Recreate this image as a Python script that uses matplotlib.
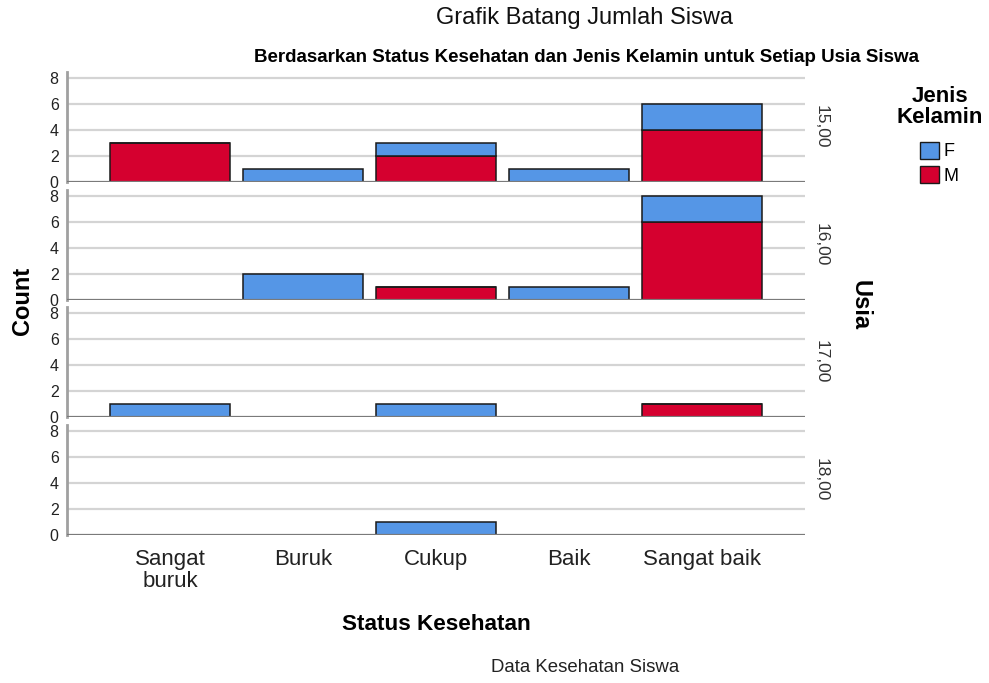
import matplotlib
matplotlib.use("Agg")
import matplotlib.pyplot as plt
from matplotlib.patches import Patch
import numpy as np

plt.rcParams["font.family"] = ["Liberation Sans", "DejaVu Sans"]

categories = ["Sangat\nburuk", "Buruk", "Cukup", "Baik", "Sangat baik"]
ages = ["15,00", "16,00", "17,00", "18,00"]
# counts per age panel, one value per category
male = [
    [3, 0, 2, 0, 4],
    [0, 0, 1, 0, 6],
    [0, 0, 0, 0, 1],
    [0, 0, 0, 0, 0],
]
female = [
    [0, 1, 1, 1, 2],
    [0, 2, 0, 1, 2],
    [1, 0, 1, 0, 0],
    [0, 0, 1, 0, 0],
]

blue = "#5596E6"
red = "#D5002F"
W, H = 989, 683

fig = plt.figure(figsize=(W / 100, H / 100), dpi=100)

x = np.arange(len(categories))
left, right = 67, 805
bottoms = [182, 299.5, 417, 535]
panel_h = 110

for i, age in enumerate(ages):
    ax = fig.add_axes([left / W, (H - bottoms[i]) / H, (right - left) / W, panel_h / H])
    m = np.array(male[i])
    f = np.array(female[i])
    ax.bar(x, m, width=0.9, color=red, edgecolor="#1a1a1a", linewidth=1.1, zorder=3)
    ax.bar(x, f, width=0.9, bottom=m, color=blue, edgecolor="#1a1a1a", linewidth=1.1, zorder=3)
    ax.set_xlim(-0.775, 4.775)
    ax.set_ylim(0, panel_h / 13)
    ax.set_yticks([0, 2, 4, 6, 8])
    for yv in [2, 4, 6, 8]:
        ax.axhline(yv, color="#d4d4d4", lw=1.6, zorder=1)
    ax.axhline(0, color="#7a7a7a", lw=1.6, zorder=4)
    for s in ["top", "right", "bottom"]:
        ax.spines[s].set_visible(False)
    ax.spines["left"].set_color("#a0a0a0")
    ax.spines["left"].set_linewidth(2)
    ax.tick_params(axis="y", length=0, labelsize=11.5, labelcolor="#222222", pad=6)
    ax.tick_params(axis="x", length=0, pad=10)
    if i < 3:
        ax.set_xticks([])
    else:
        ax.set_xticks(x)
        ax.set_xticklabels(categories, fontsize=16, color="#222222", linespacing=1.05)
    ax.text(1.012, 0.5, age, transform=ax.transAxes, rotation=-90,
            ha="left", va="center", fontsize=12.5, color="#333333")

fig.text(584 / W, 1 - 18 / H, "Grafik Batang Jumlah Siswa", ha="center", va="center",
         fontsize=17, color="#111111")
fig.text(586 / W, 1 - 57 / H, "Berdasarkan Status Kesehatan dan Jenis Kelamin untuk Setiap Usia Siswa",
         ha="center", va="center", fontsize=13.5, fontweight="bold")
fig.text(22 / W, 1 - 301 / H, "Count", rotation=90, ha="center", va="center",
         fontsize=17, fontweight="bold")
fig.text(860 / W, 1 - 305 / H, "Usia", rotation=-90, ha="center", va="center",
         fontsize=17, fontweight="bold")
fig.text(436 / W, 1 - 625 / H, "Status Kesehatan", ha="center", va="center",
         fontsize=16.2, fontweight="bold")
fig.text(585 / W, 1 - 668 / H, "Data Kesehatan Siswa", ha="center", va="center",
         fontsize=13.4, color="#222222")

# legend title drawn separately so the gap to the entries can be set
fig.text(940 / W, 1 - 107 / H, "Jenis\nKelamin", ha="center", va="center",
         fontsize=16, fontweight="bold", linespacing=1.0)
handles = [Patch(facecolor=blue, edgecolor="#1a1a1a"), Patch(facecolor=red, edgecolor="#1a1a1a")]
leg = fig.legend(handles, ["F", "M"], loc="upper left",
                 bbox_to_anchor=(916 / W, 1 - 138 / H), frameon=False, fontsize=13,
                 handlelength=1.05, handleheight=1.1, handletextpad=0.25, labelspacing=0.3,
                 borderpad=0.2, borderaxespad=0)

fig.savefig("out.png", dpi=100)
